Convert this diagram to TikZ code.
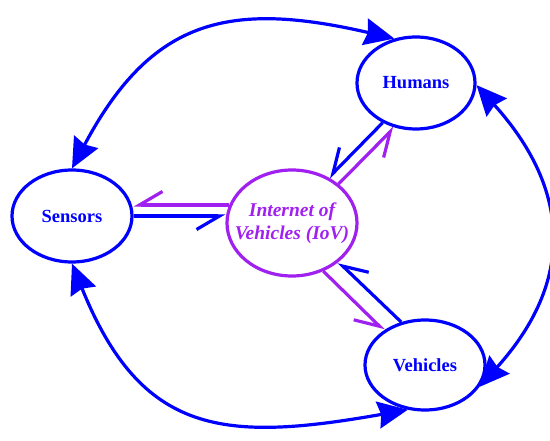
\documentclass[tikz,border=0pt]{standalone}
\usepackage{fontspec}
\setmainfont{Liberation Serif}
\usetikzlibrary{arrows.meta,shapes.geometric}
\definecolor{linkblue}{RGB}{0,0,255}
\definecolor{iovpurple}{RGB}{160,32,240}
\begin{document}
\begin{tikzpicture}[x=1pt,y=1pt,
  entity/.style={ellipse,draw=linkblue,line width=3.2pt,inner sep=0pt,
    text=linkblue,font=\fontsize{18.5}{21}\selectfont\bfseries},
  hub/.style={ellipse,draw=iovpurple,line width=3.2pt,inner sep=0pt},
  hubtext/.style={text=iovpurple,align=center,inner sep=0pt,
    font=\fontsize{19.5}{23}\selectfont\bfseries\itshape},
  harp/.style={line width=3.2pt,-{Straight Barb[right,length=23pt,width=27pt,line width=3.2pt]}},
  loop/.style={draw=linkblue,line width=3.2pt,
    {Stealth[length=30pt,width=27pt,inset=3pt]}-{Stealth[length=30pt,width=27pt,inset=3pt]}}
]
\useasboundingbox (0,0) rectangle (550,440);

% entities
\node[entity,minimum width=118pt,minimum height=92pt] (hum) at (416,357) {Humans};
\node[entity,minimum width=120pt,minimum height=92pt] (sen) at (72,224) {Sensors};
\node[entity,minimum width=120pt,minimum height=90pt] (veh) at (425,75) {Vehicles};

% central hub: fixed-size ring with its caption on top
\node[hub,minimum width=130pt,minimum height=106pt] (iov) at (292,217) {};
\node[hubtext] (iovtext) at (iov.center) {Internet of\\Vehicles (IoV)};

% links between the hub and each entity
\draw[harp,iovpurple] (iov.164) -- (iov.164 -| sen.east);
\draw[harp,linkblue] (sen.east) -- (sen.east -| iov.west);
\draw[harp,linkblue] (hum.230) -- (iov.51);
\draw[harp,iovpurple] (iov.40) -- (hum.244);
\draw[harp,linkblue] (veh.119) -- (iov.320);
\draw[harp,iovpurple] (iov.303) -- (veh.140);

% outer ring between the entities
\draw[loop] (sen.90) to[out=62,in=167,looseness=1.25] (hum.116);
\draw[loop] (hum.-2) to[out=-48,in=48,looseness=1.2] (veh.-22);
\draw[loop] (sen.270) to[out=-68,in=190,looseness=1.3] (veh.249);
\end{tikzpicture}
\end{document}
